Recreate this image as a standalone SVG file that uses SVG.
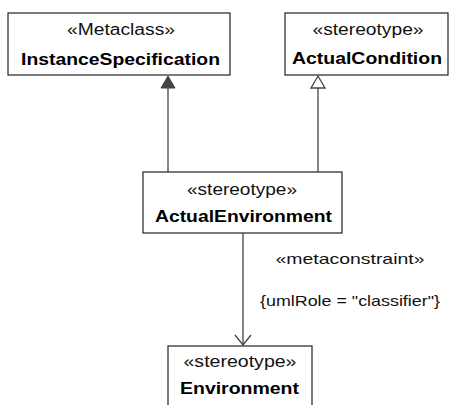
<svg xmlns="http://www.w3.org/2000/svg" width="450" height="405" viewBox="0 0 450 405">
<style>
.box{fill:#fff;stroke:#333;stroke-width:1.3}
.st{font-family:"Liberation Sans",Arial,sans-serif;font-size:16px;fill:#111;text-anchor:middle}
.nm{font-family:"Liberation Sans",Arial,sans-serif;font-size:17px;font-weight:bold;fill:#000;text-anchor:middle}
.ln{stroke:#444;stroke-width:1.3;fill:none}
.lb{font-family:"Liberation Sans",Arial,sans-serif;font-size:15px;fill:#111;text-anchor:middle}
</style>
<rect width="450" height="405" fill="#fff"/>
<g id="connectors">
<line class="ln" x1="168" y1="88" x2="168" y2="172"/>
<polygon points="168,76 161,88 175,88" fill="#444" stroke="#444" stroke-width="1"/>
<line class="ln" x1="318" y1="88" x2="318" y2="172"/>
<polygon points="318,76 311,88 325,88" fill="#fff" stroke="#444" stroke-width="1.3"/>
<line class="ln" x1="243" y1="233" x2="243" y2="345"/>
<polyline class="ln" points="235,335 243,345 251,335"/>
<text class="lb" x="350" y="264" textLength="149" lengthAdjust="spacingAndGlyphs">«metaconstraint»</text>
<text class="lb" x="350" y="306" textLength="180" lengthAdjust="spacingAndGlyphs">{umlRole = "classifier"}</text>
</g>
<g id="InstanceSpecification">
<rect class="box" x="8" y="13" width="222" height="62"/>
<text class="st" x="121" y="35" textLength="108" lengthAdjust="spacingAndGlyphs">«Metaclass»</text>
<text class="nm" x="120.5" y="65" textLength="199" lengthAdjust="spacingAndGlyphs">InstanceSpecification</text>
</g>
<g id="ActualCondition">
<rect class="box" x="285" y="13" width="163" height="62"/>
<text class="st" x="368" y="35" textLength="111" lengthAdjust="spacingAndGlyphs">«stereotype»</text>
<text class="nm" x="367" y="64" textLength="150" lengthAdjust="spacingAndGlyphs">ActualCondition</text>
</g>
<g id="ActualEnvironment">
<rect class="box" x="143" y="172" width="199" height="61"/>
<text class="st" x="242" y="195" textLength="110" lengthAdjust="spacingAndGlyphs">«stereotype»</text>
<text class="nm" x="243.5" y="222" textLength="177" lengthAdjust="spacingAndGlyphs">ActualEnvironment</text>
</g>
<g id="Environment">
<rect class="box" x="168" y="346" width="144" height="70"/>
<text class="st" x="240" y="367" textLength="113" lengthAdjust="spacingAndGlyphs">«stereotype»</text>
<text class="nm" x="239.5" y="394" textLength="119" lengthAdjust="spacingAndGlyphs">Environment</text>
</g>
</svg>
